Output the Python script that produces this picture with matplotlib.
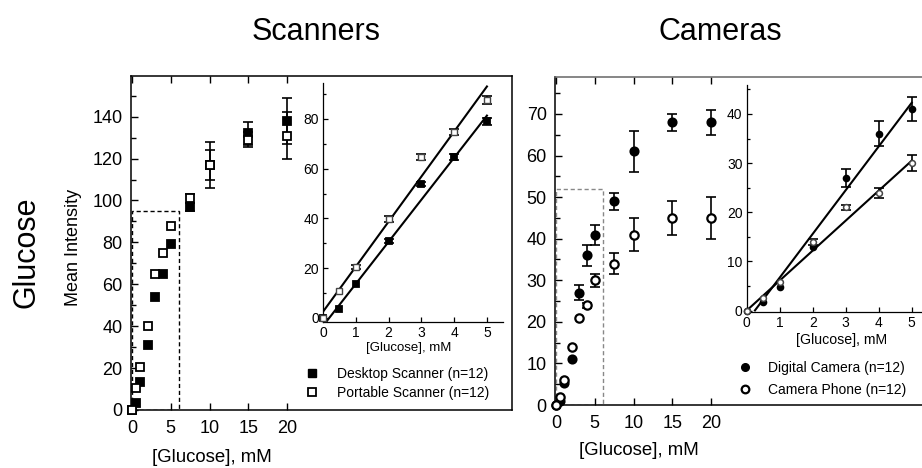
import numpy as np
import matplotlib
matplotlib.use('Agg')
import matplotlib.pyplot as plt
from matplotlib.lines import Line2D
from matplotlib.patches import Rectangle
from matplotlib.ticker import FixedLocator, MultipleLocator

plt.rcParams['font.family'] = ['Liberation Sans', 'DejaVu Sans']

# ---------------- data ----------------
# Scanners, main panel
scan_x = [0, 0.5, 1, 2, 3, 4, 5, 7.5, 10, 15, 20]
desk_y = [0, 3.5, 13.5, 31, 54, 65, 79, 97, 117, 132, 138]
desk_err = [0, 0, 0, 0, 0, 0, 0, 2, 11, 5.5, 11]
port_y = [0, 10.5, 20.5, 40, 65, 75, 88, 101, 117, 129, 131]
port_err = [0, 0, 0, 0, 0, 0, 0, 2, 7, 3.5, 11]
scan_box = (6, 95)

# Scanners, inset
scan_in_x = [0, 0.5, 1, 2, 3, 4, 5]
desk_in_y = [0, 3.6, 13.7, 30.9, 53.7, 64.8, 79]
desk_in_err = [0, 0, 0, 0.8, 0.8, 1.2, 1.5]
port_in_y = [0, 10.8, 20.6, 39.8, 64.8, 74.8, 87.5]
port_in_err = [0, 0, 0.8, 1.2, 1.2, 1.2, 1.5]
desk_fit = (16.9, -3.2)
port_fit = (18.1, 2.5)
scan_fit_x = [0, 5]

# Cameras, main panel
cam_x = [0, 0.5, 1, 2, 3, 4, 5, 7.5, 10, 15, 20]
dig_y = [0, 1, 5.2, 11, 27, 36, 41, 49, 61, 68, 68]
dig_err = [0, 0, 0, 0, 1.8, 2.5, 2.4, 2, 5, 2, 3]
phone_y = [0, 2, 6, 14, 21, 24, 30, 34, 41, 45, 45]
phone_err = [0, 0, 0, 0, 0, 0.6, 1.5, 2.5, 4, 4, 5]
cam_box = (6, 52)

# Cameras, inset
cam_in_x = [0, 0.5, 1, 2, 3, 4, 5]
dig_in_y = [0, 1.8, 4.8, 13, 27, 36, 41]
dig_in_err = [0, 0, 0, 0, 1.9, 2.5, 2.5]
phone_in_y = [0, 2.5, 5.8, 14, 21, 24, 30]
phone_in_err = [0, 0, 0, 0.6, 0.5, 1, 1.6]
dig_fit = (8.9, -2.2)
dig_fit_x = [0.25, 5]
phone_fit = (6.1, 0.0)
phone_fit_x = [0, 5]

# ---------------- layout ----------------
W, H = 922, 468
fig = plt.figure(figsize=(W / 100, H / 100), dpi=100)


def px(l, t, r, b):
    return [l / W, 1 - b / H, (r - l) / W, (b - t) / H]


def series(ax, x, y, err, marker, filled, ms, edge='black', mew=1.3):
    x = np.asarray(x, float)
    y = np.asarray(y, float)
    err = np.asarray(err, float)
    m = err > 0
    if m.any():
        ax.errorbar(x[m], y[m], yerr=err[m], fmt='none', ecolor='black',
                    elinewidth=1.2, capsize=3.5, capthick=1.2, zorder=3,
                    clip_on=False)
    ax.plot(x, y, linestyle='none', marker=marker, ms=ms,
            mfc=('black' if filled else 'white'), mec=edge, mew=mew,
            zorder=4, clip_on=False)


def style_main(ax, ymaj, ymin, fs):
    ax.xaxis.set_major_locator(FixedLocator([0, 5, 10, 15, 20]))
    ax.yaxis.set_major_locator(MultipleLocator(ymaj))
    ax.yaxis.set_minor_locator(MultipleLocator(ymin))
    ax.tick_params(which='both', direction='in', top=True, right=False,
                   width=1.0, labelsize=fs)
    ax.tick_params(which='major', length=5)
    ax.tick_params(which='minor', length=3.5)
    ax.tick_params(axis='x', pad=7)
    ax.tick_params(axis='y', pad=6)
    for s in ax.spines.values():
        s.set_linewidth(1.1)


def style_inset(ax, ymaj, ymin, fs):
    ax.set_facecolor('none')
    ax.spines['top'].set_visible(False)
    ax.spines['right'].set_visible(False)
    ax.xaxis.set_major_locator(FixedLocator([0, 1, 2, 3, 4, 5]))
    ax.yaxis.set_major_locator(MultipleLocator(ymaj))
    ax.yaxis.set_minor_locator(MultipleLocator(ymin))
    ax.tick_params(which='both', direction='in', width=0.9, labelsize=fs, pad=3)
    ax.tick_params(which='major', length=3.5)
    ax.tick_params(which='minor', length=2.5)
    for s in ax.spines.values():
        s.set_linewidth(0.9)


# ---------------- Scanners ----------------
ax_s = fig.add_axes(px(131, 76, 512, 410))
ax_s.set_xlim(-0.13, 49.0)
ax_s.set_ylim(0, 159.4)
style_main(ax_s, 20, 10, 13)
ax_s.add_patch(Rectangle((0, 0), scan_box[0], scan_box[1], fill=False,
                         edgecolor='black', lw=1.0, linestyle=(0, (3, 2)),
                         zorder=2))
series(ax_s, scan_x, desk_y, desk_err, 's', True, 5.8)
series(ax_s, scan_x, port_y, port_err, 's', False, 5.8)

h_desk = Line2D([], [], linestyle='none', marker='s', ms=5.5, mfc='black', mec='black')
h_port = Line2D([], [], linestyle='none', marker='s', ms=5.5, mfc='white', mec='black', mew=1.3)
ax_s.legend([h_desk, h_port], ['Desktop Scanner (n=12)', 'Portable Scanner (n=12)'],
            loc='center left', bbox_to_anchor=(305 / W, 1 - 383.5 / H),
            bbox_transform=fig.transFigure, frameon=False, fontsize=10,
            handlelength=1.0, handletextpad=1.3, labelspacing=0.35,
            borderpad=0, borderaxespad=0)

ax_si = fig.add_axes(px(323, 83, 503, 321.7))
ax_si.set_xlim(0, 5.49)
ax_si.set_ylim(-1.5, 94.4)
style_inset(ax_si, 20, 10, 10)
for slope, icpt in (desk_fit, port_fit):
    fx = np.asarray(scan_fit_x, float)
    ax_si.plot(fx, slope * fx + icpt, color='black', lw=1.5, zorder=2)
series(ax_si, scan_in_x, desk_in_y, desk_in_err, 's', True, 4.2)
series(ax_si, scan_in_x, port_in_y, port_in_err, 's', False, 4.2, edge='#444444', mew=1.0)

# ---------------- Cameras ----------------
ax_c = fig.add_axes(px(555, 77, 940, 405))
ax_c.set_xlim(-0.13, 49.55)
ax_c.set_ylim(0, 78.9)
style_main(ax_c, 10, 5, 13)
ax_c.spines['top'].set_color('#666666')
ax_c.add_patch(Rectangle((0, 0), cam_box[0], cam_box[1], fill=False,
                         edgecolor='#888888', lw=1.0, linestyle=(0, (3, 2)),
                         zorder=2))
series(ax_c, cam_x, dig_y, dig_err, 'o', True, 6)
series(ax_c, cam_x, phone_y, phone_err, 'o', False, 6, mew=1.6)

h_dig = Line2D([], [], linestyle='none', marker='o', ms=5.5, mfc='black', mec='black')
h_ph = Line2D([], [], linestyle='none', marker='o', ms=5.5, mfc='white', mec='black', mew=1.6)
ax_c.legend([h_dig, h_ph], ['Digital Camera (n=12)', 'Camera Phone (n=12)'],
            loc='center left', bbox_to_anchor=(738 / W, 1 - 379 / H),
            bbox_transform=fig.transFigure, frameon=False, fontsize=10,
            handlelength=1.0, handletextpad=1.16, labelspacing=0.6,
            borderpad=0, borderaxespad=0)

ax_ci = fig.add_axes(px(746.7, 85, 922, 312))
ax_ci.set_xlim(0, 5.31)
ax_ci.set_ylim(-0.3, 45.9)
style_inset(ax_ci, 10, 5, 10)
for (slope, icpt), xs in ((dig_fit, dig_fit_x), (phone_fit, phone_fit_x)):
    fx = np.asarray(xs, float)
    ax_ci.plot(fx, slope * fx + icpt, color='black', lw=1.5, zorder=2)
series(ax_ci, cam_in_x, dig_in_y, dig_in_err, 'o', True, 4.2)
series(ax_ci, cam_in_x, phone_in_y, phone_in_err, 'o', False, 4.2, edge='#444444', mew=1.1)

# ---------------- texts ----------------
fig.text(316 / W, 1 - 40 / H, 'Scanners', fontsize=22, ha='center', va='baseline')
fig.text(720 / W, 1 - 40 / H, 'Cameras', fontsize=22, ha='center', va='baseline')
fig.text(35 / W, 1 - 252 / H, 'Glucose', fontsize=22, rotation=90,
         rotation_mode='anchor', ha='center', va='baseline')
fig.text(78 / W, 1 - 247 / H, 'Mean Intensity', fontsize=13, rotation=90,
         rotation_mode='anchor', ha='center', va='baseline')
fig.text(212 / W, 1 - 461.5 / H, '[Glucose], mM', fontsize=13.4, ha='center', va='baseline')
fig.text(639 / W, 1 - 455 / H, '[Glucose], mM', fontsize=13.4, ha='center', va='baseline')
fig.text(409 / W, 1 - 351.3 / H, '[Glucose], mM', fontsize=9.5, ha='center', va='baseline')
fig.text(841.7 / W, 1 - 344 / H, '[Glucose], mM', fontsize=10.2, ha='center', va='baseline')

fig.savefig('out.png', dpi=100)
